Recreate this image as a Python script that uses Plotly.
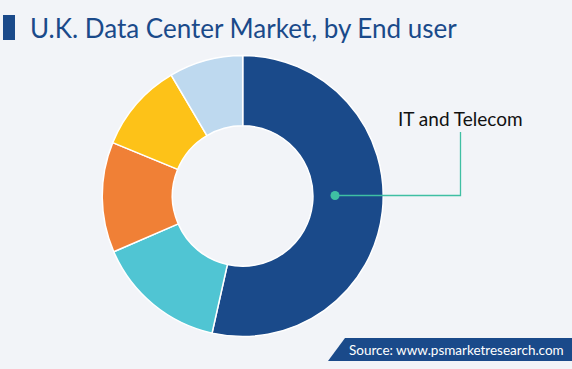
import plotly.graph_objects as go

categories = ["IT and Telecom", "BFSI", "Government", "Healthcare", "Others"]
shares = [53.5, 15.0, 12.7, 10.3, 8.5]
colors = ["#1a4a8a", "#50c5d3", "#f08036", "#fdc218", "#bed9ef"]
title_text = "U.K. Data Center Market, by End user"
source_text = "Source: www.psmarketresearch.com"
callout_label = "IT and Telecom"

W, H = 572, 369
cx, cy, R = 242.7, 196, 140.5

fig = go.Figure()
fig.add_trace(go.Pie(
    labels=categories, values=shares, hole=0.5, sort=False,
    direction="clockwise", rotation=0,
    marker=dict(colors=colors, line=dict(color="white", width=1.5)),
    textinfo="none", hoverinfo="label+percent", showlegend=False,
    domain=dict(x=[(cx - R) / W, (cx + R) / W], y=[(H - cy - R) / H, (H - cy + R) / H]),
))

shapes = [
    dict(type="rect", xref="x", yref="y", x0=3, x1=15, y0=15, y1=40,
         fillcolor="#1a4a8a", line=dict(width=0)),
    dict(type="path", xref="x", yref="y", path="M 328,361 L 345,338 L 572,338 L 572,361 Z",
         fillcolor="#1a4a8a", line=dict(width=0)),
    dict(type="path", xref="x", yref="y", path="M 335,195.5 L 460.5,195.5 L 460.5,132",
         line=dict(color="#3fbfa3", width=1.3)),
    dict(type="circle", xref="x", yref="y", x0=330.5, x1=339.5, y0=191, y1=200,
         fillcolor="#3fbfa3", line=dict(width=0)),
]

annotations = [
    dict(x=28, y=28, xref="x", yref="y", text=title_text, showarrow=False,
         xanchor="left", yanchor="middle",
         font=dict(family="Lato", size=26, color="#1a4a8a")),
    dict(x=347, y=350, xref="x", yref="y", text=source_text, showarrow=False,
         xanchor="left", yanchor="middle",
         font=dict(family="Lato", size=13.5, color="white")),
    dict(x=460.5, y=118, xref="x", yref="y", text=callout_label, showarrow=False,
         xanchor="center", yanchor="middle",
         font=dict(family="Lato", size=19, color="#111111")),
]

fig.update_layout(
    width=W, height=H, margin=dict(l=0, r=0, t=0, b=0),
    paper_bgcolor="#f2f4f8", plot_bgcolor="rgba(0,0,0,0)",
    xaxis=dict(range=[0, W], visible=False, fixedrange=True),
    yaxis=dict(range=[H, 0], visible=False, fixedrange=True),
    shapes=shapes, annotations=annotations,
)

fig.write_html("out.html", config={"displayModeBar": False},
               post_script="document.body.style.margin='0';document.body.style.background='#f2f4f8';")
